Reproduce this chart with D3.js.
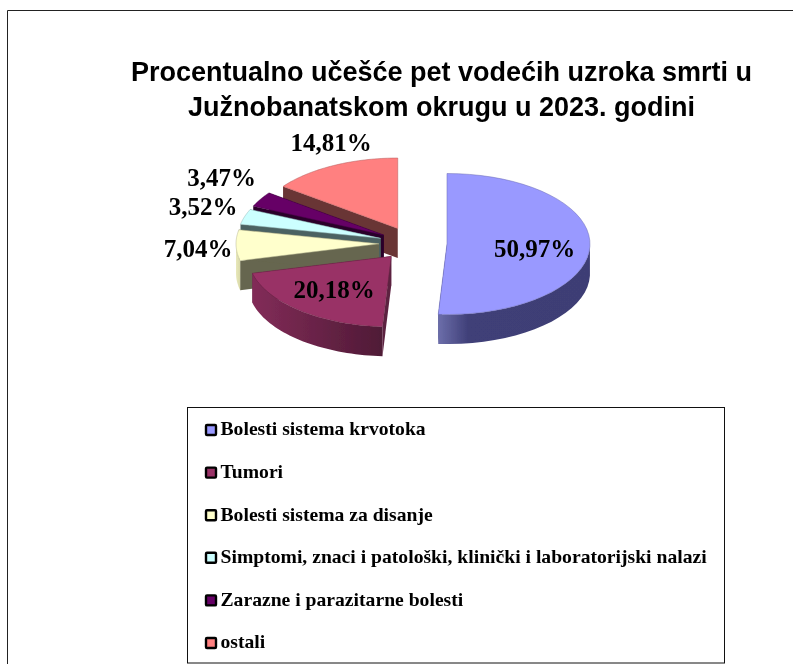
<!DOCTYPE html>
<html><head><meta charset="utf-8">
<script src="https://cdn.jsdelivr.net/npm/d3@7"></script>
<style>html,body{margin:0;padding:0;background:#fff}svg{display:block}</style>
</head><body><svg id="c" width="793" height="664"></svg>
<script>
const titleLines = ["Procentualno učešće pet vodećih uzroka smrti u", "Južnobanatskom okrugu u 2023. godini"];
const categories = ["Bolesti sistema krvotoka","Tumori","Bolesti sistema za disanje","Simptomi, znaci i patološki, klinički i laboratorijski nalazi","Zarazne i parazitarne bolesti","ostali"];
const values = [50.97,20.18,7.04,3.52,3.47,14.81];
const valueLabels = ["50,97%","20,18%","7,04%","3,52%","3,47%","14,81%"];
const topColors = ["#9999ff","#993366","#ffffcc","#ccffff","#660066","#ff8080"];
const cutColors = ["#3f3f78","#5c2140","#66664f","#4c6262","#2a002a","#693434"];
const rimStart = ["#6c6eaa","#822c58","#e8e8ba","#b8e6e6","#4d004d","#c46464"];
const rimEnd = ["#3e3e74","#4f1a36","#d8d8a8","#a0cccc","#330033","#994c4c"];
// label anchor points, relative to the page
const labelX = [534.5,334,198,203,221.5,331];
const labelY = [257,298,257,215,186,151];

const cx=413, cy=243.5, rx=143, ry=70.5, depth=29.5, explode=34;
const svg=d3.select("#c");
const defs=svg.append("defs");
defs.append("filter").attr("id","soft").attr("x","-5%").attr("y","-5%").attr("width","110%").attr("height","110%")
  .append("feGaussianBlur").attr("stdDeviation",0.45);
defs.append("filter").attr("id","softText").attr("x","-5%").attr("y","-10%").attr("width","110%").attr("height","120%")
  .append("feGaussianBlur").attr("stdDeviation",0.3);

// frame
svg.append("path").attr("d","M7.5,664V10.5H793").attr("fill","none").attr("stroke","#222").attr("stroke-width",1);

// title
svg.append("g").attr("filter","url(#softText)").selectAll("text").data(titleLines).join("text")
  .attr("x",441.5).attr("y",(d,i)=>i?116:81).attr("text-anchor","middle")
  .attr("font-family","'Liberation Sans',Arial,sans-serif").attr("font-weight","bold").attr("font-size",27).attr("fill","#000")
  .text(d=>d);

// pie
const pie=d3.pie().sort(null).value(d=>d.value)(values.map((value,i)=>({value,i})));
const P=(a,r,ox,oy,dz=0)=>[ox+r*rx*Math.sin(a), oy-r*ry*Math.cos(a)+dz];
const line=d3.line();
pie.forEach(s=>{
  const mid=(s.startAngle+s.endAngle)/2;
  s.ox=cx+explode*Math.sin(mid); s.oy=cy-explode*ry/rx*Math.cos(mid);
  s.arc=d3.range(0,41).map(k=>s.startAngle+(s.endAngle-s.startAngle)*k/40);
});
pie.forEach(s=>{
  const g=defs.append("linearGradient").attr("id","rim"+s.data.i);
  g.append("stop").attr("offset",0).attr("stop-color",rimStart[s.data.i]);
  if(s.data.i===0) g.append("stop").attr("offset",0.2).attr("stop-color","#3f3f78");
  g.append("stop").attr("offset",1).attr("stop-color",rimEnd[s.data.i]);
});
const order=[5,4,3,2,1,0];
const layer=svg.append("g").attr("filter","url(#soft)");
order.forEach(idx=>{
  const s=pie[idx], i=s.data.i, ox=s.ox, oy=s.oy, g=layer.append("g");
  const front=s.arc.filter(a=>Math.cos(a)<=0.02);
  // radial cut walls
  [s.startAngle,s.endAngle].forEach(a=>{
    const e=P(a,1,ox,oy);
    g.append("path").attr("d",line([[ox,oy],e,[e[0],e[1]+depth],[ox,oy+depth]])+"Z").attr("fill",cutColors[i]);
  });
  // outer rim, front-facing part
  if(front.length>1){
    const up=front.map(a=>P(a,1,ox,oy)), dn=front.map(a=>P(a,1,ox,oy,depth)).reverse();
    g.append("path").attr("d",line(up.concat(dn))+"Z").attr("fill",`url(#rim${i})`);
  }
  // top face
  const pts=[[ox,oy]].concat(s.arc.map(a=>P(a,1,ox,oy)));
  g.append("path").attr("d",line(pts)+"Z").attr("fill",topColors[i]).attr("stroke",d3.color(topColors[i]).darker(1)).attr("stroke-width",0.5);
});

// value labels
svg.append("g").attr("filter","url(#softText)").selectAll("text").data(valueLabels).join("text")
  .attr("x",(d,i)=>labelX[i]).attr("y",(d,i)=>labelY[i]).attr("text-anchor","middle")
  .attr("font-family","'Liberation Serif','Times New Roman',serif").attr("font-weight","bold").attr("font-size",25).attr("fill","#000")
  .text(d=>d);

// legend
svg.append("rect").attr("x",187.5).attr("y",407.5).attr("width",537).attr("height",255.5).attr("fill","#fff").attr("stroke","#111").attr("stroke-width",1);
const rowY=d3.scalePoint().domain(d3.range(categories.length)).range([430,643]);
const rows=svg.append("g").attr("filter","url(#softText)").selectAll("g").data(categories).join("g").attr("transform",(d,i)=>`translate(0,${rowY(i)})`);
rows.append("rect").attr("x",206).attr("y",-5).attr("width",10).attr("height",10)
  .attr("fill",(d,i)=>topColors[i]).attr("stroke","#000").attr("stroke-width",2.4).attr("rx",1);
rows.append("text").attr("x",220.5).attr("y",5.3)
  .attr("font-family","'Liberation Serif','Times New Roman',serif").attr("font-weight","bold").attr("font-size",19.65).attr("fill","#000")
  .text(d=>d);
</script></body></html>
